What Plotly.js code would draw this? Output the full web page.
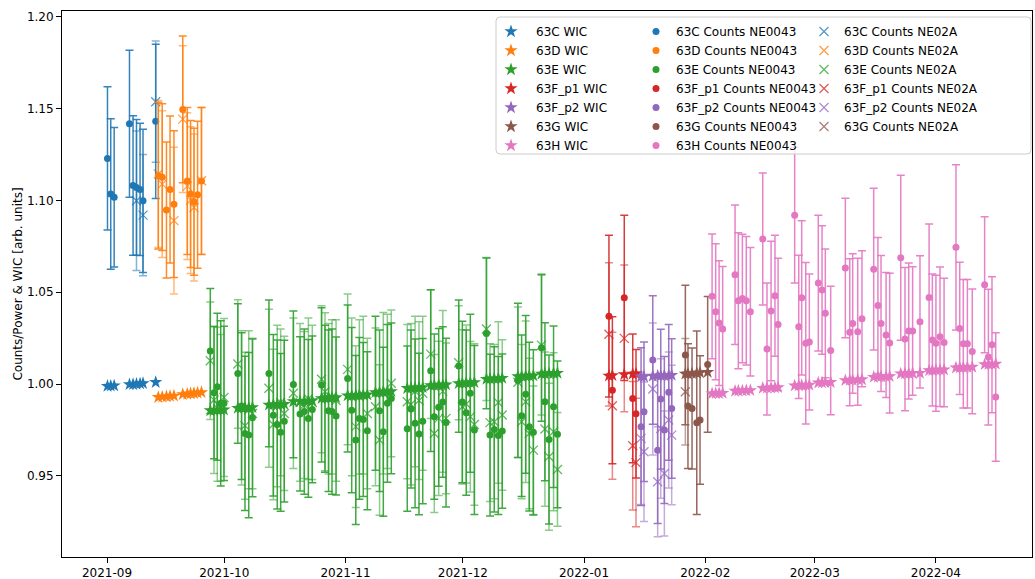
<!DOCTYPE html>
<html>
<head>
<meta charset="utf-8">
<script src="https://cdn.plot.ly/plotly-3.0.1.min.js"></script>
<style>
  html, body { margin: 0; padding: 0; background: #ffffff; }
  #chart { width: 1035px; height: 579px; }
</style>
</head>
<body>
<div id="chart"></div>
<script>
// ---- measurement runs ----
const runNames = ['63C', '63D', '63E', '63F_p1', '63F_p2', '63G', '63H'];

// ---- 63C ----
const dates63C = ['2021-09-01 03:00','2021-09-01 23:00','2021-09-02 20:00','2021-09-06 18:00','2021-09-07 16:00',
  '2021-09-08 13:00','2021-09-09 11:00','2021-09-10 05:00','2021-09-13 11:00'];
const wic63C = [0.9989,0.9990,0.9991,0.9998,0.9999,1.0000,1.0002,1.0004,1.0010];
const ne0043_63C = [1.1229,1.1035,1.1017,1.1418,1.1082,1.1071,1.1060,1.0998,1.1431];
const ne0043Err63C = [0.039,0.041,0.038,0.040,0.038,0.037,0.036,0.039,0.042];
const ne02a_63C = [null,null,null,null,null,1.0998,null,1.0920,1.1538];
const ne02aErr63C = [0.040,0.040,0.038,0.040,0.038,0.038,0.038,0.033,0.033];

// ---- 63D ----
const dates63D = ['2021-09-14 03:00','2021-09-15 03:00','2021-09-16 05:00','2021-09-17 03:00','2021-09-18 03:00',
  '2021-09-20 09:00','2021-09-21 13:00','2021-09-22 09:00','2021-09-23 06:00','2021-09-24 04:00','2021-09-25 04:00'];
const wic63D = [0.9928,0.9930,0.9932,0.9934,0.9936,0.9944,0.9946,0.9948,0.9950,0.9952,0.9955];
const ne0043_63D = [1.1135,1.1127,1.0948,1.1060,1.0980,1.1496,1.1106,1.1035,1.0993,1.1031,1.1106];
const ne0043Err63D = [0.040,0.040,0.037,0.040,0.040,0.040,0.040,0.040,0.040,0.040,0.040];
const ne02a_63D = [1.1144,1.1089,null,null,1.0890,1.1443,1.1078,1.1002,1.0962,null,1.1107];
const ne02aErr63D = [0.040,0.040,0.040,0.040,0.040,0.040,0.040,0.040,0.040,0.040,0.040];

// ---- 63E ----
const dates63E = [
  '2021-09-27 10:00','2021-09-28 09:00','2021-09-29 05:00','2021-09-30 02:00','2021-09-30 22:00',
  '2021-10-04 11:00','2021-10-05 10:00','2021-10-06 07:00','2021-10-07 06:00','2021-10-08 05:00',
  '2021-10-12 10:00','2021-10-13 13:00','2021-10-14 13:00','2021-10-15 10:00','2021-10-16 08:00',
  '2021-10-18 16:00','2021-10-20 09:00','2021-10-21 11:00','2021-10-22 12:00','2021-10-23 12:00',
  '2021-10-25 21:00','2021-10-26 18:00','2021-10-27 16:00','2021-10-28 13:00','2021-10-29 14:00',
  '2021-11-01 13:00','2021-11-02 14:00','2021-11-03 15:00','2021-11-04 13:00','2021-11-05 13:00','2021-11-06 14:00',
  '2021-11-08 16:00','2021-11-09 17:00','2021-11-10 16:00','2021-11-11 17:00','2021-11-12 17:00',
  '2021-11-16 19:00','2021-11-17 18:00','2021-11-18 19:00','2021-11-19 19:00','2021-11-20 18:00',
  '2021-11-22 19:00','2021-11-23 17:00','2021-11-24 20:00','2021-11-25 21:00','2021-11-26 17:00',
  '2021-11-29 23:00','2021-11-30 21:00','2021-12-01 21:00','2021-12-02 22:00','2021-12-03 23:00',
  '2021-12-07 01:00','2021-12-07 23:00','2021-12-09 01:00','2021-12-10 02:00','2021-12-11 02:00',
  '2021-12-15 02:00','2021-12-16 01:00','2021-12-17 02:00','2021-12-18 00:00','2021-12-19 01:00',
  '2021-12-21 03:00','2021-12-22 00:00','2021-12-23 01:00','2021-12-24 05:00','2021-12-25 05:00'];
const wic63E = [
  0.9856,0.9857,0.9858,0.9859,0.9860,
  0.9869,0.9870,0.9871,0.9872,0.9873,
  0.9887,0.9888,0.9889,0.9890,0.9891,
  0.9905,0.9906,0.9907,0.9908,0.9909,
  0.9922,0.9923,0.9925,0.9926,0.9927,
  0.9937,0.9938,0.9939,0.9940,0.9941,0.9942,
  0.9955,0.9956,0.9958,0.9959,0.9960,
  0.9977,0.9978,0.9980,0.9981,0.9982,
  0.9992,0.9993,0.9995,0.9996,0.9997,
  1.0004,1.0005,1.0007,1.0008,1.0009,
  1.0027,1.0028,1.0030,1.0031,1.0032,
  1.0041,1.0042,1.0044,1.0045,1.0046,
  1.0055,1.0056,1.0058,1.0059,1.0060];
const ne0043_63E = [
  1.0180,0.9953,0.9985,0.9895,0.9895,
  1.0058,0.9880,0.9731,0.9722,0.9816,
  1.0058,0.9830,0.9780,0.9737,0.9798,
  0.9998,0.9837,0.9850,0.9813,0.9862,
  0.9995,0.9920,0.9855,0.9850,0.9826,
  1.0030,0.9858,0.9695,0.9813,0.9807,0.9746,
  0.9950,0.9855,0.9740,0.9895,0.9922,
  0.9757,0.9864,0.9786,0.9728,0.9798,
  1.0073,0.9822,0.9873,0.9902,0.9790,
  1.0098,0.9902,0.9844,0.9950,0.9750,
  1.0276,0.9722,0.9753,0.9720,0.9744,
  1.0020,0.9827,0.9944,0.9768,0.9737,
  1.0198,0.9904,0.9698,0.9876,0.9726];
const ne0043Err63E = [
  0.034,0.036,0.040,0.045,0.042,
  0.038,0.040,0.042,0.045,0.043,
  0.040,0.044,0.046,0.043,0.044,
  0.040,0.042,0.045,0.043,0.040,
  0.042,0.040,0.044,0.045,0.043,
  0.040,0.045,0.046,0.044,0.042,0.043,
  0.042,0.044,0.046,0.043,0.041,
  0.045,0.043,0.046,0.044,0.045,
  0.044,0.045,0.043,0.041,0.046,
  0.036,0.044,0.045,0.043,0.046,
  0.041,0.044,0.045,0.043,0.042,
  0.042,0.044,0.043,0.046,0.045,
  0.040,0.043,0.046,0.044,0.040];
const ne02a_63E = [
  1.0127,0.9913,0.9890,0.9870,0.9927,
  1.0109,0.9870,0.9773,0.9860,0.9840,
  0.9977,0.9780,0.9880,0.9900,0.9840,
  0.9950,0.9900,0.9886,0.9920,0.9900,
  1.0026,0.9958,0.9920,0.9930,0.9910,
  1.0080,0.9930,0.9768,0.9930,0.9940,0.9840,
  0.9876,0.9695,0.9950,0.9960,1.0004,
  0.9904,0.9890,0.9960,0.9910,0.9950,
  1.0163,0.9731,0.9813,0.9960,0.9813,
  1.0116,0.9876,0.9891,0.9822,0.9780,
  1.0300,0.9790,0.9795,0.9900,0.9831,
  1.0010,0.9795,0.9904,0.9731,0.9640,
  1.0212,0.9755,0.9604,0.9740,0.9535];
const ne02aErr63E = [
  0.032,0.040,0.042,0.040,0.043,
  0.035,0.042,0.040,0.043,0.041,
  0.043,0.041,0.044,0.040,0.042,
  0.041,0.043,0.040,0.044,0.042,
  0.040,0.043,0.041,0.042,0.044,
  0.041,0.043,0.044,0.042,0.043,0.041,
  0.043,0.041,0.044,0.042,0.040,
  0.042,0.044,0.041,0.043,0.042,
  0.035,0.043,0.042,0.044,0.041,
  0.031,0.042,0.043,0.041,0.044,
  0.039,0.043,0.042,0.044,0.041,
  0.041,0.042,0.044,0.041,0.035,
  0.038,0.042,0.040,0.043,0.031];

// ---- 63F_p1 ----
const dates63F1 = ['2022-01-07 09:00','2022-01-08 06:00','2022-01-11 07:00','2022-01-13 11:00','2022-01-14 07:00'];
const wic63F1 = [1.0045,1.0047,1.0053,1.0055,1.0056];
const ne0043_63F1 = [1.0370,0.9966,1.0470,0.9922,0.9838];
const ne0043Err63F1 = [0.044,0.040,0.045,0.035,0.035];
const ne02a_63F1 = [1.0271,0.9882,1.0249,0.9664,0.9573];
const ne02aErr63F1 = [0.039,0.040,0.040,0.035,0.035];

// ---- 63F_p2 ----
const dates63F2 = ['2022-01-15 14:00','2022-01-16 08:00','2022-01-18 14:00','2022-01-19 20:00','2022-01-20 15:00',
  '2022-01-21 13:00','2022-01-22 16:00','2022-01-23 10:00'];
const wic63F2 = [1.0040,1.0041,1.0044,1.0045,1.0046,1.0047,1.0048,1.0049];
const ne0043_63F2 = [0.9768,0.9849,1.0131,0.9640,0.9918,0.9750,0.9955,0.9867];
const ne0043Err63F2 = [0.043,0.038,0.035,0.040,0.038,0.040,0.037,0.038];
const ne02a_63F2 = [0.9704,0.9631,0.9973,0.9468,0.9758,0.9513,0.9804,0.9722];
const ne02aErr63F2 = [0.036,0.038,0.036,0.030,0.038,0.034,0.037,0.038];

// ---- 63G ----
const dates63G = ['2022-01-26 22:00','2022-01-27 14:00','2022-01-28 15:00','2022-01-29 20:00','2022-01-30 16:00','2022-02-01 15:00'];
const wic63G = [1.0055,1.0056,1.0058,1.0060,1.0062,1.0065];
const ne0043_63G = [1.0158,0.9880,0.9867,0.9789,0.9804,1.0107];
const ne0043Err63G = [0.038,0.034,0.033,0.050,0.035,0.037];
const ne02a_63G = [0.9958,null,null,null,null,null];
const ne02aErr63G = [0.029,0.040,0.040,0.040,0.040,0.037];

// ---- 63H ----
const dates63H = [
  '2022-02-02 18:00','2022-02-03 16:00','2022-02-04 13:00','2022-02-05 11:00',
  '2022-02-08 15:00','2022-02-09 11:00','2022-02-10 12:00','2022-02-11 12:00','2022-02-12 13:00',
  '2022-02-15 17:00','2022-02-16 19:00','2022-02-17 20:00','2022-02-18 20:00','2022-02-19 15:00',
  '2022-02-23 21:00','2022-02-24 22:00','2022-02-25 16:00','2022-02-26 17:00','2022-02-27 15:00',
  '2022-03-01 22:00','2022-03-02 21:00','2022-03-03 17:00','2022-03-05 02:00',
  '2022-03-08 20:00','2022-03-09 23:00','2022-03-10 17:00','2022-03-12 00:00','2022-03-13 02:00',
  '2022-03-16 02:00','2022-03-17 04:00','2022-03-17 23:00','2022-03-19 06:00','2022-03-20 04:00',
  '2022-03-23 00:00','2022-03-24 02:00','2022-03-25 01:00','2022-03-26 01:00','2022-03-27 22:00',
  '2022-03-30 06:00','2022-03-31 02:00','2022-04-01 00:00','2022-04-02 01:00','2022-04-03 02:00',
  '2022-04-06 03:00','2022-04-07 02:00','2022-04-08 00:00','2022-04-09 01:00','2022-04-10 07:00',
  '2022-04-13 11:00','2022-04-14 10:00','2022-04-15 08:00','2022-04-16 07:00'];
const wic63H = [
  0.9948,0.9949,0.9950,0.9951,
  0.9962,0.9963,0.9964,0.9965,0.9966,
  0.9978,0.9979,0.9980,0.9981,0.9982,
  0.9991,0.9992,0.9993,0.9994,0.9995,
  1.0007,1.0008,1.0009,1.0010,
  1.0020,1.0021,1.0022,1.0024,1.0025,
  1.0038,1.0039,1.0040,1.0041,1.0042,
  1.0056,1.0057,1.0058,1.0059,1.0060,
  1.0074,1.0075,1.0076,1.0077,1.0078,
  1.0089,1.0090,1.0091,1.0092,1.0093,
  1.0107,1.0108,1.0109,1.0110];
const ne0043_63H = [
  1.0478,1.0394,1.0332,1.0300,
  1.0595,1.0454,1.0466,1.0454,1.0394,
  1.0790,1.0191,1.0398,1.0481,1.0325,
  1.0920,1.0312,1.0470,1.0222,1.0229,
  1.0550,1.0512,1.0385,1.0183,
  1.0632,1.0282,1.0330,1.0285,1.0356,
  1.0626,1.0428,1.0330,1.0267,1.0223,
  1.0688,1.0245,1.0289,1.0289,1.0339,
  1.0472,1.0240,1.0222,1.0258,1.0227,
  1.0745,1.0303,1.0219,1.0219,1.0178,
  1.0541,1.0147,1.0214,0.9929];
const ne0043Err63H = [
  0.034,0.037,0.034,0.034,
  0.038,0.037,0.035,0.035,0.035,
  0.036,0.036,0.038,0.033,0.036,
  0.037,0.039,0.042,0.044,0.037,
  0.037,0.035,0.035,0.035,
  0.038,0.040,0.038,0.040,0.037,
  0.044,0.037,0.037,0.034,0.038,
  0.045,0.039,0.037,0.035,0.036,
  0.040,0.036,0.037,0.038,0.035,
  0.045,0.036,0.035,0.035,0.034,
  0.037,0.037,0.037,0.035];

// ---- drawing ----
const palette = {
  '63C': '31,119,180', '63D': '255,127,14', '63E': '44,160,44', '63F_p1': '214,39,40',
  '63F_p2': '148,103,189', '63G': '140,86,75', '63H': '227,119,194'
};
const runData = {
  '63C': {d: dates63C, wic: wic63C, a: ne0043_63C, ae: ne0043Err63C, b: ne02a_63C, be: ne02aErr63C},
  '63D': {d: dates63D, wic: wic63D, a: ne0043_63D, ae: ne0043Err63D, b: ne02a_63D, be: ne02aErr63D},
  '63E': {d: dates63E, wic: wic63E, a: ne0043_63E, ae: ne0043Err63E, b: ne02a_63E, be: ne02aErr63E},
  '63F_p1': {d: dates63F1, wic: wic63F1, a: ne0043_63F1, ae: ne0043Err63F1, b: ne02a_63F1, be: ne02aErr63F1},
  '63F_p2': {d: dates63F2, wic: wic63F2, a: ne0043_63F2, ae: ne0043Err63F2, b: ne02a_63F2, be: ne02aErr63F2},
  '63G': {d: dates63G, wic: wic63G, a: ne0043_63G, ae: ne0043Err63G, b: ne02a_63G, be: ne02aErr63G},
  '63H': {d: dates63H, wic: wic63H, a: ne0043_63H, ae: ne0043Err63H, b: null, be: null}
};

const rgb = (run, a) => 'rgba(' + palette[run] + ',' + a + ')';
const traces = [];

// NE02A counts (x markers), drawn first
runNames.forEach(run => {
  const r = runData[run];
  if (!r.b) return;
  traces.push({
    type: 'scatter', mode: 'markers', x: r.d, y: r.b, name: run + ' Counts NE02A', legend: 'legend3',
    marker: {symbol: 'x-thin', size: 9, color: rgb(run, 0.75), line: {color: rgb(run, 0.75), width: 1.3}},
    error_y: {type: 'data', array: r.be, visible: true, color: rgb(run, 0.55), thickness: 1.5, width: 4}
  });
});
// NE0043 counts (filled circles)
runNames.forEach(run => {
  const r = runData[run];
  traces.push({
    type: 'scatter', mode: 'markers', x: r.d, y: r.a, name: run + ' Counts NE0043', legend: 'legend2',
    marker: {symbol: 'circle', size: 7, color: rgb(run, 1)},
    error_y: {type: 'data', array: r.ae, visible: true, color: rgb(run, 0.9), thickness: 1.5, width: 4}
  });
});
// WIC (stars)
runNames.forEach(run => {
  const r = runData[run];
  traces.push({
    type: 'scatter', mode: 'markers', x: r.d, y: r.wic, name: run + ' WIC', legend: 'legend',
    marker: {symbol: 'star', size: 10, color: rgb(run, 1), line: {width: 0}}
  });
});

const W = 1035, H = 579;
const plot = {l: 62, r: 3, t: 11, b: 22};
const pw = W - plot.l - plot.r, ph = H - plot.t - plot.b;
const px = x => (x - plot.l) / pw;
const py = y => (H - plot.b - y) / ph;

// legend frame with rounded corners
function roundedBox(x0, x1, y0, y1, rpx) {
  const rx = rpx / pw, ry = rpx / ph;
  return 'M' + (x0 + rx) + ',' + y0 + ' L' + (x1 - rx) + ',' + y0 +
    ' Q' + x1 + ',' + y0 + ' ' + x1 + ',' + (y0 + ry) +
    ' L' + x1 + ',' + (y1 - ry) + ' Q' + x1 + ',' + y1 + ' ' + (x1 - rx) + ',' + y1 +
    ' L' + (x0 + rx) + ',' + y1 + ' Q' + x0 + ',' + y1 + ' ' + x0 + ',' + (y1 - ry) +
    ' L' + x0 + ',' + (y0 + ry) + ' Q' + x0 + ',' + y0 + ' ' + (x0 + rx) + ',' + y0 + ' Z';
}

const font = {family: 'DejaVu Sans, sans-serif', size: 12, color: '#000000'};
const legendCommon = {
  font: font, bgcolor: 'rgba(0,0,0,0)', borderwidth: 0, itemwidth: 30,
  xanchor: 'left', yanchor: 'top', orientation: 'v', itemclick: false
};

const layout = {
  width: W, height: H,
  margin: plot,
  paper_bgcolor: '#ffffff', plot_bgcolor: '#ffffff',
  font: font,
  showlegend: true,
  xaxis: {
    type: 'date', range: ['2021-08-20 11:47', '2022-04-25 13:40'],
    tick0: '2021-09-01', dtick: 'M1', tickformat: '%Y-%m',
    ticks: 'outside', ticklen: 5, tickwidth: 1, tickcolor: '#000',
    showline: true, linecolor: '#000', linewidth: 1, mirror: true,
    showgrid: false, zeroline: false, tickfont: font
  },
  yaxis: {
    range: [0.9058, 1.2032], tick0: 0.95, dtick: 0.05, tickformat: '.2f',
    ticks: 'outside', ticklen: 5, tickwidth: 1, tickcolor: '#000',
    showline: true, linecolor: '#000', linewidth: 1, mirror: true,
    showgrid: false, zeroline: false, tickfont: font,
    title: {text: 'Counts/Power & WIC [arb. units]', font: font, standoff: 1}
  },
  legend: Object.assign({}, legendCommon, {x: px(486), y: py(17), itemwidth: 40}),
  legend2: Object.assign({}, legendCommon, {x: px(636), y: py(17)}),
  legend3: Object.assign({}, legendCommon, {x: px(804), y: py(17)}),
  shapes: [{
    type: 'path', xref: 'paper', yref: 'paper', layer: 'above',
    path: roundedBox(px(496), px(1031), py(154), py(17), 4),
    fillcolor: 'rgba(255,255,255,0.8)', line: {color: '#cccccc', width: 1}
  }]
};

Plotly.newPlot('chart', traces, layout, {displayModeBar: false, staticPlot: true});
</script>
</body>
</html>
